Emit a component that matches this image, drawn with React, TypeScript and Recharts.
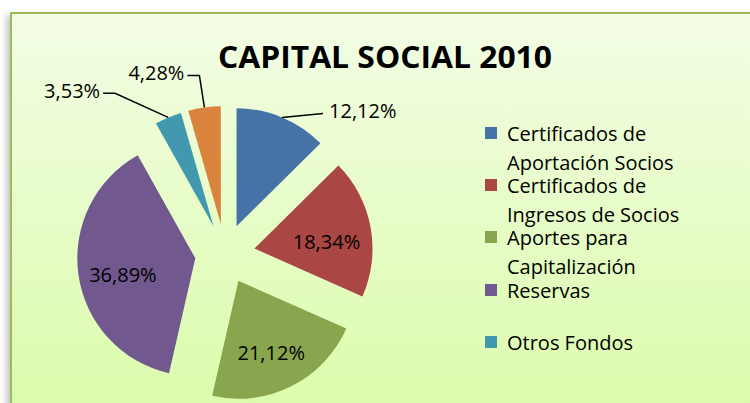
import { PieChart, Pie, Cell, Sector, Legend } from "recharts";

const categories = [
  "Certificados de Aportación Socios",
  "Certificados de Ingresos de Socios",
  "Aportes para Capitalización",
  "Reservas",
  "Otros Fondos",
  "Otros",
];
const values = [12.12, 18.34, 21.12, 36.89, 3.53, 4.28];
const colors = ["#4572A7", "#AA4643", "#89A54E", "#71588F", "#4198AF", "#DB843D"];
const legendCount = 5;

const data = categories.map((name, i) => ({ name, value: values[i] }));

const RAD = Math.PI / 180;
const EXPLODE = 30;
const FONT = "'Open Sans', sans-serif";

const fmt = (v: number) => v.toFixed(2).replace(".", ",") + "%";

// leader lines for the small slices: elbow and end, relative to arc point
const leaders: Record<number, { elbow: [number, number]; end: [number, number]; side: "start" | "end" }> = {
  0: { elbow: [41, -4], end: [41, -4], side: "start" },
  4: { elbow: [-53, -24], end: [-65, -24], side: "end" },
  5: { elbow: [-5, -32], end: [-17, -32], side: "end" },
};

const explode = (cx: number, cy: number, midAngle: number) => ({
  x: cx + EXPLODE * Math.cos(-midAngle * RAD),
  y: cy + EXPLODE * Math.sin(-midAngle * RAD),
});

const ExplodedSlice = (props: any) => {
  const c = explode(props.cx, props.cy, props.midAngle);
  return <Sector {...props} cx={c.x} cy={c.y} stroke="none" />;
};

const renderLabel = (props: any) => {
  const { cx, cy, midAngle, outerRadius, index, value } = props;
  const cos = Math.cos(-midAngle * RAD);
  const sin = Math.sin(-midAngle * RAD);
  const c = explode(cx, cy, midAngle);
  const text = fmt(value);
  const lay = leaders[index];
  if (!lay) {
    const r = outerRadius * 0.62;
    return (
      <text x={c.x + r * cos} y={c.y + r * sin + 6} textAnchor="middle" dominantBaseline="central"
        fontFamily={FONT} fontSize={20} fill="#000">
        {text}
      </text>
    );
  }
  const ax = c.x + outerRadius * cos;
  const ay = c.y + outerRadius * sin;
  const bx = ax + lay.elbow[0];
  const by = ay + lay.elbow[1];
  const ex = ax + lay.end[0];
  const ey = ay + lay.end[1];
  const tx = lay.side === "start" ? ex + 6 : ex - 3;
  return (
    <g>
      <polyline points={`${ax},${ay} ${bx},${by} ${ex},${ey}`} fill="none" stroke="#000" strokeWidth={1.5} />
      <text x={tx} y={ey - 3} textAnchor={lay.side} dominantBaseline="central" fontFamily={FONT} fontSize={20} fill="#000">
        {text}
      </text>
    </g>
  );
};

const renderLegend = (props: any) => {
  const items = [...(props.payload || [])]
    .sort((a: any, b: any) => categories.indexOf(a.value) - categories.indexOf(b.value))
    .slice(0, legendCount);
  return (
    <div style={{ position: "relative", width: 260, height: 260, fontFamily: FONT, fontSize: 20, color: "#000" }}>
      {items.map((entry: any, i: number) => (
        <div key={i} style={{ position: "absolute", left: 0, top: i * 52.2, display: "flex" }}>
          <div style={{ width: 12, height: 12, background: entry.color, marginTop: 8, marginRight: 10, flex: "none" }} />
          <div style={{ width: 200, lineHeight: "29px" }}>{entry.value}</div>
        </div>
      ))}
    </div>
  );
};

export default function App() {
  return (
    <div style={{ position: "absolute", left: 0, top: 0, width: 750, height: 403, overflow: "hidden", background: "#fff" }}>
      <div
        style={{
          position: "absolute",
          left: 10,
          top: 12,
          width: 760,
          height: 420,
          borderTop: "2.5px solid #9BBB59",
          borderLeft: "2.5px solid #9BBB59",
          background: "linear-gradient(#F3FDE5, #DAFCA8)",
          boxShadow: "-4px 3px 6px rgba(0,0,0,0.22)",
        }}
      />
      <div style={{ position: "absolute", left: 0, top: 0 }}>
        <PieChart width={750} height={403} margin={{ top: 0, right: 0, bottom: 0, left: 0 }}>
          <Pie
            data={data}
            dataKey="value"
            nameKey="name"
            cx={225}
            cy={254}
            outerRadius={118}
            startAngle={90}
            endAngle={-270}
            stroke="none"
            shape={ExplodedSlice}
            label={renderLabel}
            labelLine={false}
            isAnimationActive={false}
          >
            {data.map((_, i) => (
              <Cell key={i} fill={colors[i]} />
            ))}
          </Pie>
          <Legend
            layout="vertical"
            align="right"
            verticalAlign="top"
            content={renderLegend}
            wrapperStyle={{ position: "absolute", left: 485, top: 119, width: 260 }}
          />
        </PieChart>
      </div>
      <svg width={750} height={403} style={{ position: "absolute", left: 0, top: 0, pointerEvents: "none" }}>
        <text x={218} y={68} fontFamily={FONT} fontWeight={700} fontSize={31} textLength={334} lengthAdjust="spacingAndGlyphs" fill="#000">
          CAPITAL SOCIAL 2010
        </text>
      </svg>
    </div>
  );
}
